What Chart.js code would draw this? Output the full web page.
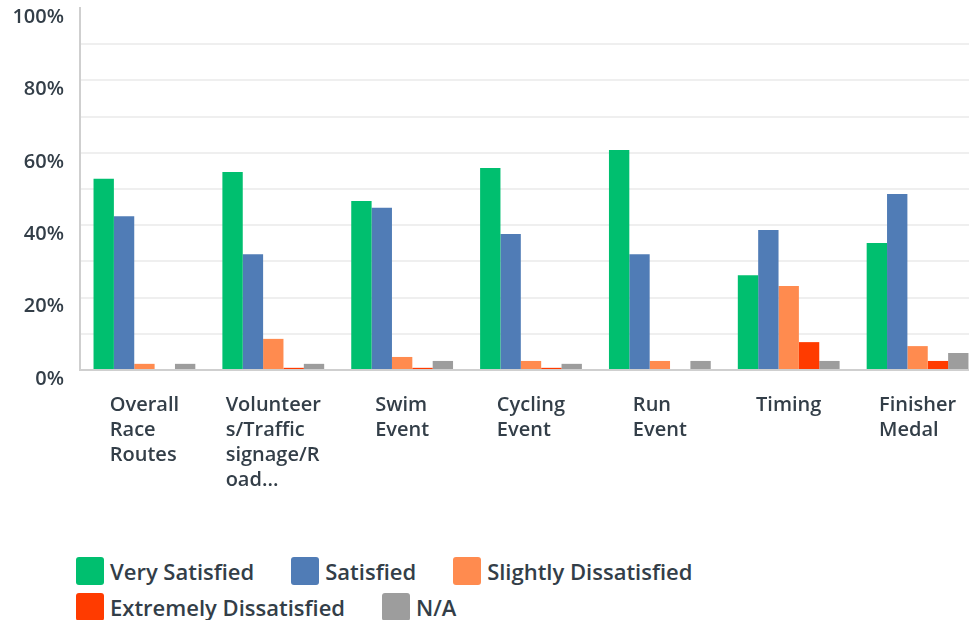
<!DOCTYPE html>
<html>
<head>
<meta charset="utf-8">
<script src="https://cdn.jsdelivr.net/npm/chart.js@4.4.1/dist/chart.umd.min.js"></script>
<style>
  html, body { margin: 0; padding: 0; background: #fff; width: 969px; height: 620px; overflow: hidden; }
  #wrap { position: absolute; left: 0; top: 0; width: 982px; height: 500px; }
  #legend {
    position: absolute; left: 76px; top: 557px; width: 640px;
    display: flex; flex-wrap: wrap; column-gap: 37px; row-gap: 8px;
    font-family: "Open Sans", sans-serif; font-weight: 600; font-size: 22px; color: #333e48;
  }
  .item { display: flex; align-items: center; height: 28px; }
  .box { width: 28px; height: 28px; border-radius: 3px; margin-right: 6px; }
</style>
</head>
<body>
<div id="wrap"><canvas id="chart"></canvas></div>
<div id="legend"></div>
<script>
// categories (already wrapped the way the survey chart shows them)
const categories = [
  ['Overall', 'Race', 'Routes'],
  ['Volunteer', 's/Traffic', 'signage/R', 'oad...'],
  ['Swim', 'Event'],
  ['Cycling', 'Event'],
  ['Run', 'Event'],
  ['Timing'],
  ['Finisher', 'Medal']
];
const seriesNames = ['Very Satisfied', 'Satisfied', 'Slightly Dissatisfied', 'Extremely Dissatisfied', 'N/A'];
const seriesColors = ['#00bf6f', '#507cb6', '#ff8b4f', '#ff3b00', '#9d9d9d'];
const verySatisfied = [52.8, 54.7, 46.7, 55.8, 60.8, 26.2, 35.1];
const satisfied = [42.5, 32.0, 44.8, 37.6, 32.0, 38.7, 48.6];
const slightlyDissatisfied = [1.7, 8.6, 3.6, 2.5, 2.5, 23.2, 6.6];
const extremelyDissatisfied = [0, 0.6, 0.6, 0.6, 0, 7.7, 2.5];
const notApplicable = [1.7, 1.7, 2.5, 1.7, 2.5, 2.5, 4.7];
const yTicks = [0, 20, 40, 60, 80, 100];

const TEXT = '#333e48';
const FONT = '"Open Sans", sans-serif';
const seriesValues = [verySatisfied, satisfied, slightlyDissatisfied, extremelyDissatisfied, notApplicable];

// x labels: left aligned lines, block centred under each group
const xLabelPlugin = {
  id: 'xLabels',
  afterDraw: function (chart) {
    const ctx = chart.ctx;
    const xs = chart.scales.x;
    const base = chart.chartArea.bottom + 41;
    ctx.save();
    ctx.font = '600 20px ' + FONT;
    ctx.fillStyle = TEXT;
    ctx.textAlign = 'left';
    ctx.textBaseline = 'alphabetic';
    categories.forEach(function (lines, i) {
      let w = 0;
      lines.forEach(function (l) { w = Math.max(w, ctx.measureText(l).width); });
      const x0 = xs.getPixelForValue(i) - w / 2;
      lines.forEach(function (l, j) { ctx.fillText(l, x0, base + j * 25); });
    });
    ctx.restore();
  }
};

new Chart(document.getElementById('chart'), {
  type: 'bar',
  data: {
    labels: categories.map(function (c) { return c.join(' '); }),
    datasets: seriesNames.map(function (name, i) {
      return { label: name, data: seriesValues[i], backgroundColor: seriesColors[i], borderWidth: 0,
        categoryPercentage: 0.79, barPercentage: 1 };
    })
  },
  options: {
    responsive: true, maintainAspectRatio: false, animation: false,
    layout: { padding: { top: 8, right: 0, left: 0, bottom: 0 } },
    plugins: { legend: { display: false }, tooltip: { enabled: false } },
    scales: {
      x: {
        grid: { display: false },
        border: { color: '#cfcfcf', width: 2 },
        ticks: { display: false },
        afterFit: function (s) { s.height = 130; s.paddingLeft = 0; s.paddingRight = 0; }
      },
      y: {
        min: 0, max: 100,
        border: { color: '#cfcfcf', width: 2 },
        grid: {
          drawTicks: false, lineWidth: 2,
          color: function (c) { return c.tick && c.tick.value === 100 ? 'rgba(0,0,0,0)' : '#efefef'; }
        },
        ticks: {
          stepSize: 10, autoSkip: false, padding: 16, labelOffset: 9,
          color: TEXT, font: { family: FONT, size: 20, weight: '600' },
          callback: function (v) { return yTicks.indexOf(v) >= 0 ? v + '%' : ''; }
        },
        afterFit: function (s) { s.width = 80; s.paddingTop = 0; s.paddingBottom = 0; }
      }
    }
  },
  plugins: [xLabelPlugin]
});

// legend
const legend = document.getElementById('legend');
seriesNames.forEach(function (name, i) {
  const item = document.createElement('div');
  item.className = 'item';
  const box = document.createElement('span');
  box.className = 'box';
  box.style.background = seriesColors[i];
  const txt = document.createElement('span');
  txt.textContent = name;
  item.appendChild(box);
  item.appendChild(txt);
  legend.appendChild(item);
});
</script>
</body>
</html>
